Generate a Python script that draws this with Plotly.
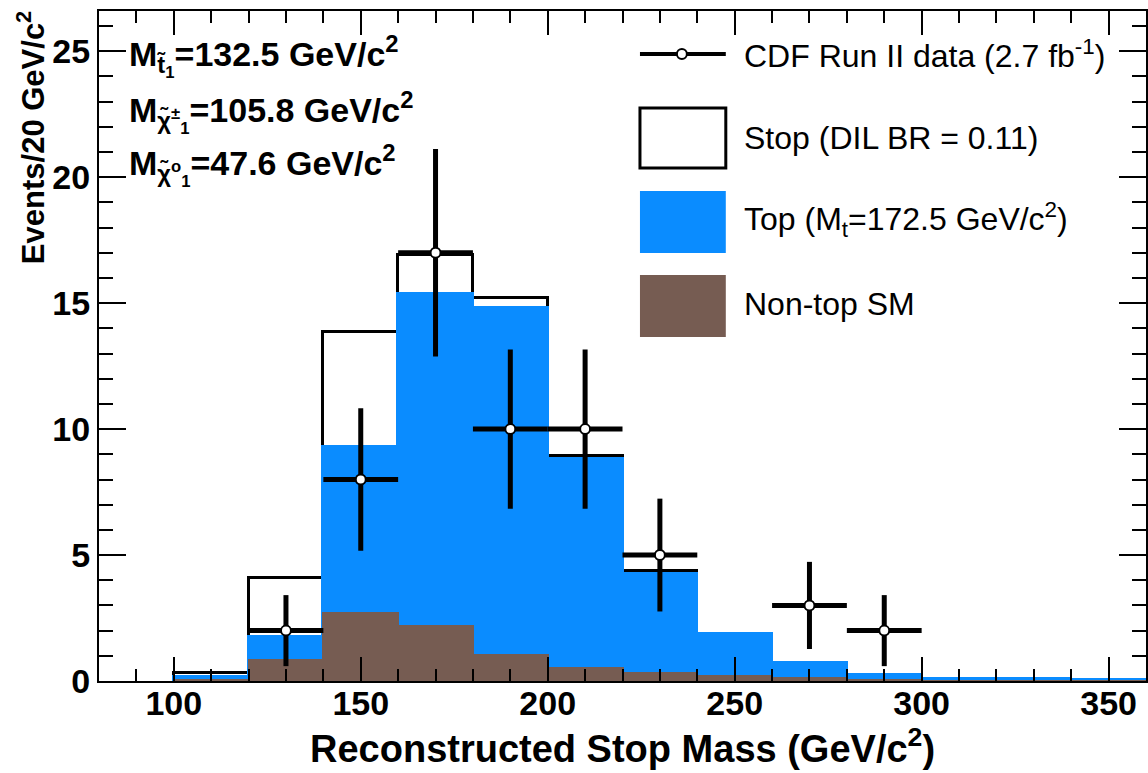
import numpy as np
import plotly.graph_objects as go

# ---------------- data ----------------
bin_lo = [100, 120, 140, 160, 180, 200, 220, 240, 260, 280, 300, 320, 340]
bin_width = 20
nontop_sm = [0.05, 0.85, 2.70, 2.20, 1.05, 0.50, 0.30, 0.20, 0.10, 0.05, 0.02, 0.01, 0.00]
top_mc    = [0.10, 0.90, 6.60, 13.15, 13.75, 8.30, 3.95, 1.65, 0.60, 0.20, 0.06, 0.05, 0.03]
stop_sig  = [0.15, 2.35, 4.55, 1.55, 0.40, 0.15, 0.10, 0.00, 0.00, 0.00, 0.00, 0.00, 0.00]

data_x    = [130, 150, 170, 190, 210, 230, 270, 290]
data_y    = [2, 8, 17, 10, 10, 5, 3, 2]
data_yerr = [1.41, 2.83, 4.12, 3.16, 3.16, 2.24, 1.73, 1.41]
data_xerr = [10, 10, 10, 10, 10, 10, 10, 10]

x_ticks = [100, 150, 200, 250, 300, 350]
y_ticks = [0, 5, 10, 15, 20, 25]

# ---------------- style ----------------
FONT = "Liberation Sans, Arial, Helvetica, sans-serif"
BLUE = "#0a8cff"
BROWN = "#765c52"
W, H = 1148, 773
L, R, T, B = 99, 0, 11, 92
PW, PH = W - L - R, H - T - B

def px_x(px):
    return (px - L) / PW

def px_y(py):
    return (H - B - py) / PH

centers = np.array(bin_lo) + bin_width / 2
lvl_nontop = np.array(nontop_sm)
lvl_top = lvl_nontop + np.array(top_mc)
lvl_stop = lvl_top + np.array(stop_sig)

fig = go.Figure()
fig.add_trace(go.Bar(x=centers, y=lvl_stop, width=bin_width, marker=dict(color="white", line=dict(color="black", width=3)), showlegend=False))
fig.add_trace(go.Bar(x=centers, y=lvl_top, width=bin_width, marker=dict(color=BLUE, line=dict(color=BLUE, width=3)), showlegend=False))
fig.add_trace(go.Bar(x=centers, y=lvl_nontop, width=bin_width, marker=dict(color=BROWN, line=dict(color=BROWN, width=2)), showlegend=False))
fig.add_trace(go.Scatter(
    x=data_x, y=data_y, mode="markers",
    marker=dict(symbol="circle", size=10, color="white", line=dict(color="black", width=2)),
    error_y=dict(type="data", array=data_yerr, color="black", thickness=5, width=0),
    error_x=dict(type="data", array=data_xerr, color="black", thickness=5, width=0),
    showlegend=False))

axis_common = dict(
    showline=True, linecolor="black", linewidth=2, mirror="ticks",
    ticks="inside", tickcolor="black", tickwidth=2,
    showgrid=False, zeroline=False,
    tickfont=dict(family=FONT, size=34, color="black", weight="bold"),
)
fig.update_xaxes(range=[80, 360], tickvals=x_ticks, ticklen=24,
                 minor=dict(dtick=10, tick0=0, ticks="inside", ticklen=12, tickwidth=2, tickcolor="black"),
                 ticklabelstandoff=-9, **axis_common)
fig.update_yaxes(range=[0, 26.6], tickvals=y_ticks, ticklen=27,
                 minor=dict(dtick=1, tick0=0, ticks="inside", ticklen=14, tickwidth=2, tickcolor="black"),
                 ticklabelstandoff=0, **axis_common)

ann = []
# axis titles
ann.append(dict(text="<b>Reconstructed Stop Mass (GeV/c<sup>2</sup>)</b>", x=0.5, y=px_y(746),
                xref="paper", yref="paper", xanchor="center", yanchor="middle", showarrow=False,
                font=dict(family=FONT, size=38, color="black")))
ann.append(dict(text="<b>Events/20 GeV/c<sup>2</sup></b>", x=px_x(31), y=px_y(138),
                xref="paper", yref="paper", xanchor="center", yanchor="middle", showarrow=False, textangle=-90,
                font=dict(family=FONT, size=31, color="black")))
# mass labels
mass_labels = [
    "<b>M<sub>t\u0303<sub>1</sub></sub>=132.5 GeV/c<sup>2</sup></b>",
    "<b>M<sub>\u03c7\u0303<sup>\u00b1</sup><sub>1</sub></sub>=105.8 GeV/c<sup>2</sup></b>",
    "<b>M<sub>\u03c7\u0303<sup>o</sup><sub>1</sub></sub>=47.6 GeV/c<sup>2</sup></b>",
]
for txt, yc in zip(mass_labels, [56, 112, 165]):
    ann.append(dict(text=txt, x=px_x(127), y=px_y(yc), xref="paper", yref="paper",
                    xanchor="left", yanchor="middle", showarrow=False,
                    font=dict(family=FONT, size=34, color="black")))
# legend texts
leg_texts = [
    "CDF Run II data (2.7 fb<sup>-1</sup>)",
    "Stop (DIL BR = 0.11)",
    "Top (M<sub>t</sub>=172.5 GeV/c<sup>2</sup>)",
    "Non-top SM",
]
for txt, yc in zip(leg_texts, [54, 138, 220, 304]):
    ann.append(dict(text=txt, x=px_x(743), y=px_y(yc), xref="paper", yref="paper",
                    xanchor="left", yanchor="middle", showarrow=False,
                    font=dict(family=FONT, size=32, color="black")))

shapes = []
lx0, lx1 = px_x(641), px_x(727)
shapes.append(dict(type="line", xref="paper", yref="paper", x0=lx0, x1=lx1, y0=px_y(54), y1=px_y(54),
                   line=dict(color="black", width=4)))
shapes.append(dict(type="circle", xref="paper", yref="paper", x0=px_x(678), x1=px_x(688),
                   y0=px_y(59), y1=px_y(49), fillcolor="white", line=dict(color="black", width=2)))
shapes.append(dict(type="rect", xref="paper", yref="paper", x0=lx0, x1=lx1, y0=px_y(168), y1=px_y(108),
                   fillcolor="white", line=dict(color="black", width=3)))
shapes.append(dict(type="rect", xref="paper", yref="paper", x0=lx0, x1=lx1, y0=px_y(253), y1=px_y(191),
                   fillcolor=BLUE, line=dict(color=BLUE, width=0)))
shapes.append(dict(type="rect", xref="paper", yref="paper", x0=lx0, x1=lx1, y0=px_y(337), y1=px_y(275),
                   fillcolor=BROWN, line=dict(color=BROWN, width=0)))

fig.update_layout(
    width=W, height=H, margin=dict(l=L, r=R, t=T, b=B),
    paper_bgcolor="white", plot_bgcolor="white",
    barmode="overlay", bargap=0,
    annotations=ann, shapes=shapes, showlegend=False,
)
fig.write_html("out.html", config={"displayModeBar": False},
               post_script="document.body.style.margin='0px';document.body.style.overflow='hidden';")
